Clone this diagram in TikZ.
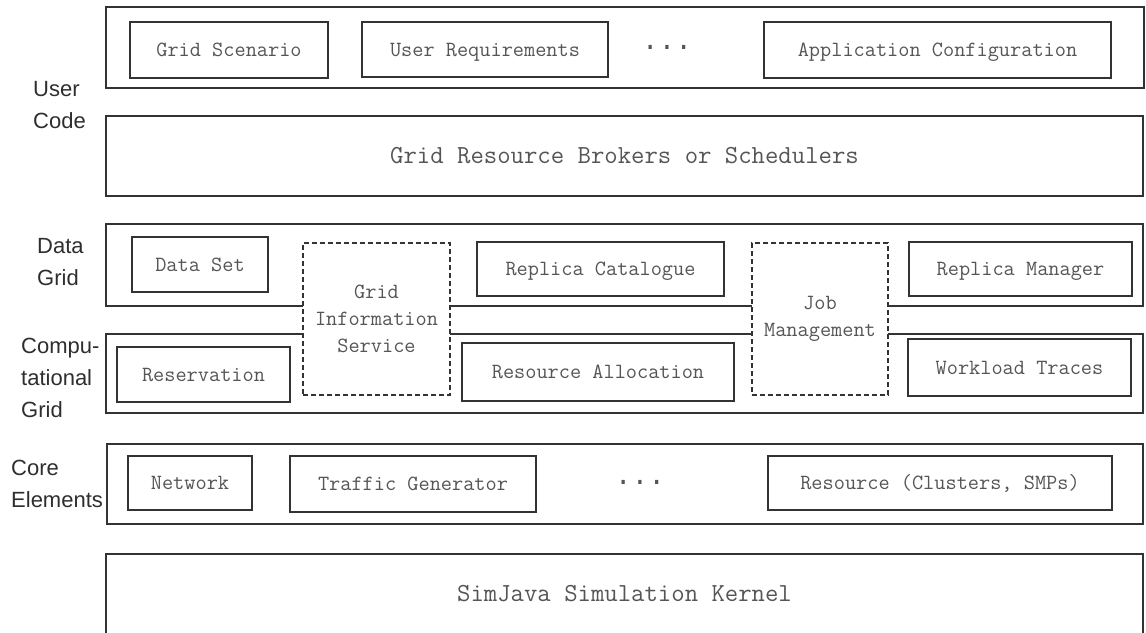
\documentclass[tikz,border=0pt]{standalone}
\usepackage{fontspec}
\usepackage{tikz}
\newfontfamily\courierfont{Liberation Mono}
\newfontfamily\arialfont{Liberation Sans}
\definecolor{boxline}{HTML}{333333}
\definecolor{boxtext}{HTML}{555555}
\definecolor{sidetext}{HTML}{2E2E2E}
\tikzstyle{side} = [anchor=west, align=left, inner sep=0pt, text=sidetext, font=\arialfont\fontsize{22}{32}\selectfont]

\begin{document}
\begin{tikzpicture}[x=1pt,y=-1pt]
    \tikzstyle{layer} = [rectangle, draw=boxline, line width=1.6pt, inner sep=0pt,
    text=boxtext, font=\ttfamily\fontsize{26}{27}\selectfont,
    text height=20pt, text depth=5pt] \tikzstyle{part} = [rectangle,
    draw=boxline, line width=1.6pt, fill=white, inner sep=0pt, text=boxtext,
    font=\ttfamily\fontsize{21.7}{27}\selectfont, text height=17pt, text
    depth=4pt] \tikzstyle{service} = [rectangle, draw=boxline, line
    width=1.4pt, dash pattern=on 5pt off 3pt, fill=white, inner sep=0pt,
    align=center, text=boxtext, font=\ttfamily\fontsize{21.7}{27}\selectfont]
    \tikzstyle{dots} = [inner sep=0pt, text=boxtext,
    font=\courierfont\fontsize{28}{28}\selectfont]

    \useasboundingbox (0,0) rectangle (1146,632);

    % layers
    \node[layer, minimum width=1038pt, minimum height=81pt](l1) at (625,47.5) {};
    \node[layer, minimum width=1037pt, minimum height=80pt](l2) at (624.5,156)
    {Grid Resource Brokers or Schedulers};
    \node[layer, minimum width=1037pt, minimum height=82pt](l3) at (624.5,265) {};
    \node[layer, minimum width=1037pt, minimum height=79pt](l4) at (624.5,373.5) {};
    \node[layer, minimum width=1036pt, minimum height=80pt](l5) at (625,484) {};
    \node[layer, minimum width=1037pt, minimum height=80pt](l6) at (624.5,594)
    {SimJava Simulation Kernel};

    \node[side](s1) at (33,105.5) {User\\Code};
    \node[side](s2) at (37,262) {Data\\Grid};
    \node[side](s3) at (21,378) {Compu-\\tational\\Grid};
    \node[side](s4) at (11,483.5) {Core\\Elements};

    % user code
    \node[part, minimum width=198pt, minimum height=56pt](u1) at (229,50) {Grid Scenario};
    \node[part, minimum width=246pt, minimum height=55pt](u2) at (485,49.5) {User Requirements};
    \node[dots](u3) at (667,47) {...};
    \node[part, minimum width=347pt, minimum height=56pt](u4) at (937.5,50) {Application Configuration};

    % services across data and computational grid
    \node[service, minimum width=147pt, minimum height=152pt](g1) at (376.5,319)
    {Grid\\Information\\Service};
    \node[service, minimum width=136pt, minimum height=152pt](g2) at (820,319)
    {Job\\Management};

    \node[part, minimum width=136pt, minimum height=55pt](d1) at (200,264.5) {Data Set};
    \node[part, minimum width=247pt, minimum height=54pt](d2) at (600.5,269) {Replica Catalogue};
    \node[part, minimum width=223pt, minimum height=54pt](d3) at (1020.5,269) {Replica Manager};

    \node[part, minimum width=173pt, minimum height=55pt](c1) at (203.5,374.5) {Reservation};
    \node[part, minimum width=272pt, minimum height=58pt](c2) at (598,372) {Resource Allocation};
    \node[part, minimum width=223pt, minimum height=57pt](c3) at (1019.5,367.5) {Workload Traces};

    % core elements
    \node[part, minimum width=124pt, minimum height=54pt](e1) at (190,483) {Network};
    \node[part, minimum width=246pt, minimum height=56pt](e2) at (413,484) {Traffic Generator};
    \node[dots](e3) at (640,482) {...};
    \node[part, minimum width=344pt, minimum height=54pt](e4) at (940,483) {Resource (Clusters, SMPs)};
\end{tikzpicture}
\end{document}
